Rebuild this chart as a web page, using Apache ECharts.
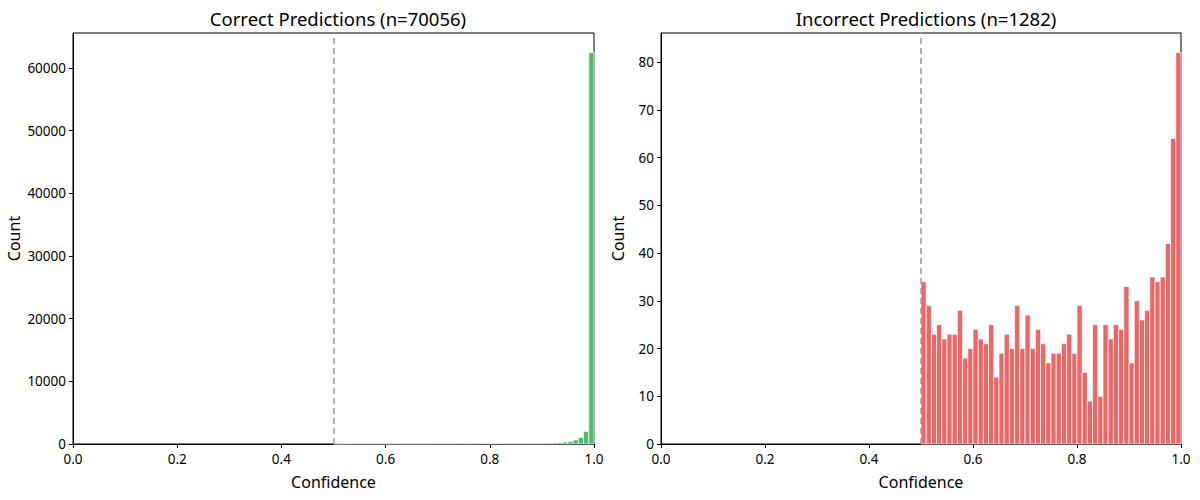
<!DOCTYPE html>
<html>
<head>
<meta charset="utf-8">
<script src="https://cdn.jsdelivr.net/npm/echarts@6/dist/echarts.min.js"></script>
<style>
  html, body { margin: 0; padding: 0; background: #fff; }
  #chart { width: 1200px; height: 500px; }
</style>
</head>
<body>
<div id="chart"></div>
<script>
// histogram bins start at 0.50 and are 0.01 wide (50 bins up to 1.0)
var BIN_START = 0.5;
var BIN_WIDTH = 0.01;
var THRESHOLD = 0.5;

var correctCounts = [
  30, 28, 32, 35, 31, 36, 38, 34, 40, 37,
  42, 44, 41, 46, 48, 45, 50, 52, 49, 55,
  58, 56, 60, 63, 61, 66, 70, 68, 74, 78,
  76, 82, 86, 90, 95, 100, 106, 112, 118, 126,
  134, 145, 180, 230, 310, 430, 650, 1050, 2000, 62469
];
var incorrectCounts = [
  34, 29, 23, 25, 22, 23, 23, 28, 18, 20,
  24, 22, 21, 25, 14, 19, 23, 20, 29, 20,
  27, 20, 24, 21, 17, 19, 19, 21, 23, 19,
  29, 15, 9, 25, 10, 25, 22, 25, 24, 33,
  17, 30, 26, 28, 35, 34, 35, 42, 64, 82
];
var xTicks = [0, 0.2, 0.4, 0.6, 0.8, 1.0];
var correctYTicks = [0, 10000, 20000, 30000, 40000, 50000, 60000];
var incorrectYTicks = [0, 10, 20, 30, 40, 50, 60, 70, 80];

var titles = ['Correct Predictions (n=70056)', 'Incorrect Predictions (n=1282)'];
var green = '#52b96f';
var red = '#e96767';
var font = 'Noto Sans';

function toBins(counts) {
  return counts.map(function(c, i) {
    return [BIN_START + i * BIN_WIDTH, c];
  });
}

function renderBar(color) {
  return function(params, api) {
    var x0 = api.value(0);
    var p1 = api.coord([x0, api.value(1)]);
    var p2 = api.coord([x0 + BIN_WIDTH, 0]);
    return {
      type: 'rect',
      shape: { x: p1[0], y: p1[1], width: p2[0] - p1[0], height: p2[1] - p1[1] },
      style: { fill: color, stroke: '#fff', lineWidth: 0.7 }
    };
  };
}

function xAxisFor(idx) {
  return {
    type: 'value', gridIndex: idx, min: 0, max: 1,
    name: 'Confidence', nameLocation: 'middle', nameGap: 30,
    nameTextStyle: { color: '#000', fontSize: 16, fontFamily: font },
    axisLine: { lineStyle: { color: '#000', width: 1 } },
    axisTick: { show: true, length: 4, lineStyle: { color: '#000' }, customValues: xTicks },
    axisLabel: { color: '#000', fontSize: 13.5, fontFamily: font, margin: 8,
      customValues: xTicks, formatter: function(v) { return v.toFixed(1); } },
    splitLine: { show: false }
  };
}

function yAxisFor(idx, maxVal, ticks, gap) {
  return {
    type: 'value', gridIndex: idx, min: 0, max: maxVal * 1.05,
    name: 'Count', nameLocation: 'middle', nameGap: gap,
    nameTextStyle: { color: '#000', fontSize: 16, fontFamily: font },
    axisLine: { show: true, lineStyle: { color: '#000', width: 1 } },
    axisTick: { show: true, length: 4, lineStyle: { color: '#000' }, customValues: ticks },
    axisLabel: { color: '#000', fontSize: 13.5, fontFamily: font, margin: 7,
      customValues: ticks, formatter: function(v) { return String(v); } },
    splitLine: { show: false }
  };
}

var thresholdLine = {
  silent: true, symbol: 'none',
  label: { show: false },
  lineStyle: { color: '#999', type: [6, 4], width: 1.5 },
  data: [{ xAxis: THRESHOLD }]
};

var chart = echarts.init(document.getElementById('chart'), null, { renderer: 'svg' });
chart.setOption({
  animation: false,
  title: [
    { text: titles[0], left: 333, top: 4, textAlign: 'center',
      textStyle: { fontSize: 18.5, fontWeight: 'normal', color: '#000', fontFamily: font } },
    { text: titles[1], left: 921, top: 4, textAlign: 'center',
      textStyle: { fontSize: 18.5, fontWeight: 'normal', color: '#000', fontFamily: font } }
  ],
  grid: [
    { left: 73, top: 33, width: 521, height: 411, show: true, borderColor: '#000', borderWidth: 1 },
    { left: 661, top: 33, width: 520, height: 411, show: true, borderColor: '#000', borderWidth: 1 }
  ],
  xAxis: [xAxisFor(0), xAxisFor(1)],
  yAxis: [
    yAxisFor(0, Math.max.apply(null, correctCounts), correctYTicks, 51),
    yAxisFor(1, Math.max.apply(null, incorrectCounts), incorrectYTicks, 35)
  ],
  series: [
    { name: 'correct', type: 'custom', xAxisIndex: 0, yAxisIndex: 0,
      renderItem: renderBar(green), data: toBins(correctCounts), markLine: thresholdLine },
    { name: 'incorrect', type: 'custom', xAxisIndex: 1, yAxisIndex: 1,
      renderItem: renderBar(red), data: toBins(incorrectCounts), markLine: thresholdLine }
  ]
});
window.addEventListener('resize', function() { chart.resize(); });
</script>
</body>
</html>
